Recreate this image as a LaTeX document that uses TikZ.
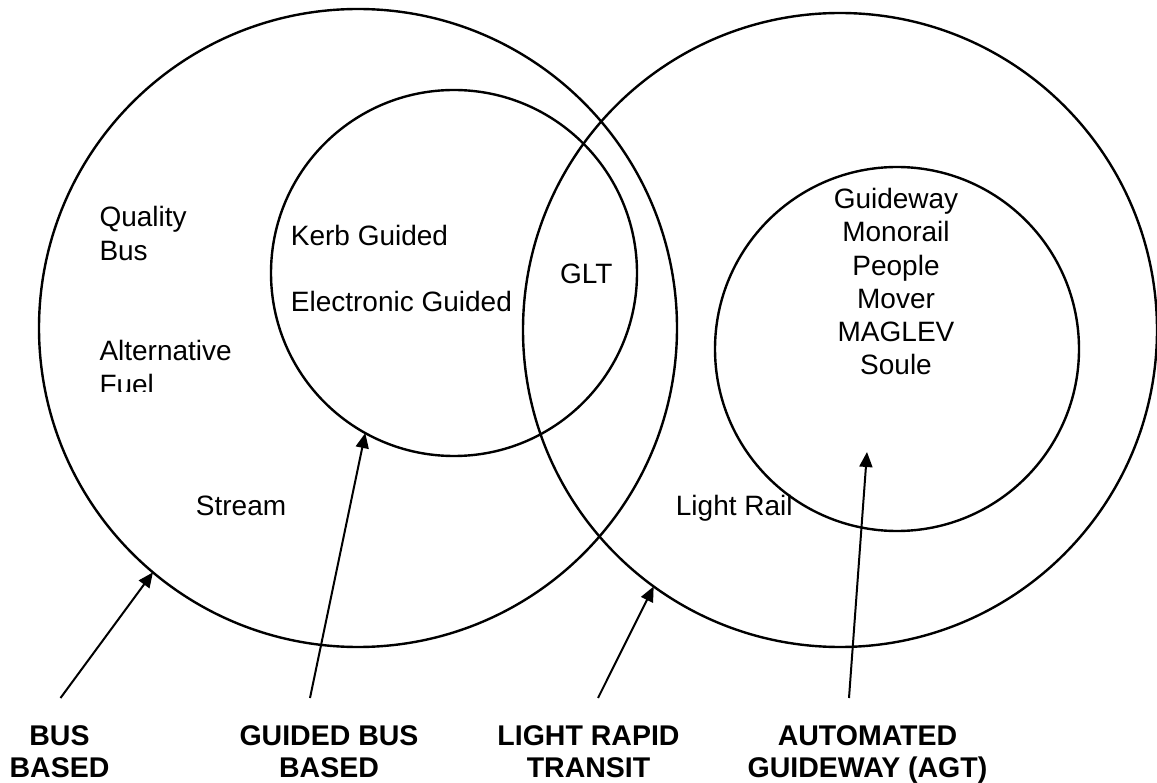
\documentclass[tikz,border=0pt]{standalone}
\usepackage{fontspec}
\setmainfont{Liberation Sans}
\usetikzlibrary{arrows.meta}
\tikzset{
ring/.style = {circle, draw, line width=2.4pt, minimum size=#1,
               inner sep=0pt, outer sep=0pt},
item/.style = {font=\fontsize{28}{33.3}\selectfont, inner sep=0pt},
caption/.style = {font=\bfseries\fontsize{28.5}{32}\selectfont, align=center,
                  inner sep=0pt, anchor=north},
pointer/.style = {-{Triangle[length=15pt, width=13pt]}, line width=2pt}
}

\begin{document}
\begin{tikzpicture}[x=1pt, y=-1pt]
	\def \lift{27.6pt} % gap between caption and arrow tail

	\useasboundingbox (0,0) rectangle (1157,783);

	% Circles
	\node[ring=638pt] (busring)    at (358,328) {};
	\node[ring=634pt] (lrtring)    at (840,330) {};
	\node[ring=366pt] (guidedring) at (454,273) {};
	\node[ring=364pt] (agtring)    at (897,349) {};

	% Bus based
	\node[item, align=left, anchor=north west] (quality) at (99.3,206.5) {Quality\\Bus};
	\begin{scope}
		\clip (0,0) rectangle (400,392);
		\node[item, align=left, anchor=north west] (fuel) at (99.3,340.5) {Alternative\\Fuel};
	\end{scope}
	\node[item, anchor=base west] (stream) at (195.7,515) {Stream};

	% Guided bus based
	\node[item, anchor=base west] (kerb)       at (290.7,245.7) {Kerb Guided};
	\node[item, anchor=base west] (electronic) at (290.7,311.7) {Electronic Guided};
	\node[item, anchor=base west] (glt)        at (560,283.3)   {GLT};

	% Light rapid transit / AGT
	\node[item, anchor=base west] (lightrail) at (675.7,515) {Light Rail};
	\node[item, align=center, anchor=north] (agtlist) at (896,188)
		{Guideway\\Monorail\\People\\Mover\\MAGLEV\\Soule};

	% Captions
	\node[caption] (busbased)    at (59.5,725.6)  {BUS\\BASED};
	\node[caption] (guidedbased) at (329,725.6)   {GUIDED BUS\\BASED};
	\node[caption] (lrt)         at (588.5,725.6) {LIGHT RAPID\\TRANSIT};
	\node[caption] (agt)         at (867.5,725.6) {AUTOMATED\\GUIDEWAY (AGT)};

	% Arrows
	\coordinate (agtpoint) at (867,452);
	\draw[pointer] ([xshift=1pt, yshift=\lift]busbased.north) -- (busring.230);
	\draw[pointer] ([xshift=-19pt, yshift=\lift]guidedbased.north) -- (guidedring.241);
	\draw[pointer] ([xshift=9.5pt, yshift=\lift]lrt.north) -- (lrtring.234);
	\draw[pointer] ([xshift=-18.5pt, yshift=\lift]agt.north) -- (agtpoint);
\end{tikzpicture}
\end{document}
